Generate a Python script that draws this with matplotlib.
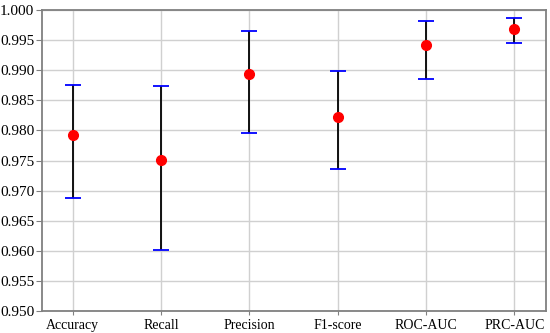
import numpy as np
import matplotlib.pyplot as plt

plt.rcParams['font.family'] = ['Liberation Serif', 'DejaVu Serif']

metrics = ['Accuracy', 'Recall', 'Precision', 'F1-score', 'ROC-AUC', 'PRC-AUC']
means = [0.9792, 0.9751, 0.9894, 0.9822, 0.9942, 0.9969]
lower = [0.9688, 0.9601, 0.9796, 0.9736, 0.9885, 0.9945]
upper = [0.9875, 0.9874, 0.9965, 0.9899, 0.9981, 0.9987]

x = np.arange(len(metrics))
means_a = np.array(means)
yerr = [means_a - np.array(lower), np.array(upper) - means_a]

fig = plt.figure(figsize=(5.5, 3.33), dpi=100)
ax = fig.add_axes([42 / 550, 1 - 311 / 333, 504 / 550, 301 / 333])

line, caps, bars = ax.errorbar(x, means, yerr=yerr, fmt='o', color='red',
                               markersize=7, ecolor='black', elinewidth=1.3,
                               capsize=6, capthick=1.3, zorder=3)
for c in caps:
    c.set_markeredgecolor('blue')
    c.set_color('blue')

ax.set_xlim(-0.35, 5.36)
ax.set_ylim(0.95, 1.0)
yt = np.arange(0.95, 1.0001, 0.005)
ax.set_yticks(yt)
ax.set_yticklabels([f'{v:.3f}' for v in yt])
ax.set_xticks(x)
ax.set_xticklabels(metrics)
ax.tick_params(axis='y', labelsize=11, colors='#808080', labelcolor='black', length=4, pad=1.5)
ax.tick_params(axis='x', labelsize=10, colors='#808080', labelcolor='black', length=3, pad=3)
ax.grid(True, color='#d0d0d0', linewidth=1.0, zorder=0)
ax.set_axisbelow(True)
for s in ax.spines.values():
    s.set_color('#808080')
    s.set_linewidth(1.3)

fig.savefig('out.png', dpi=100)
